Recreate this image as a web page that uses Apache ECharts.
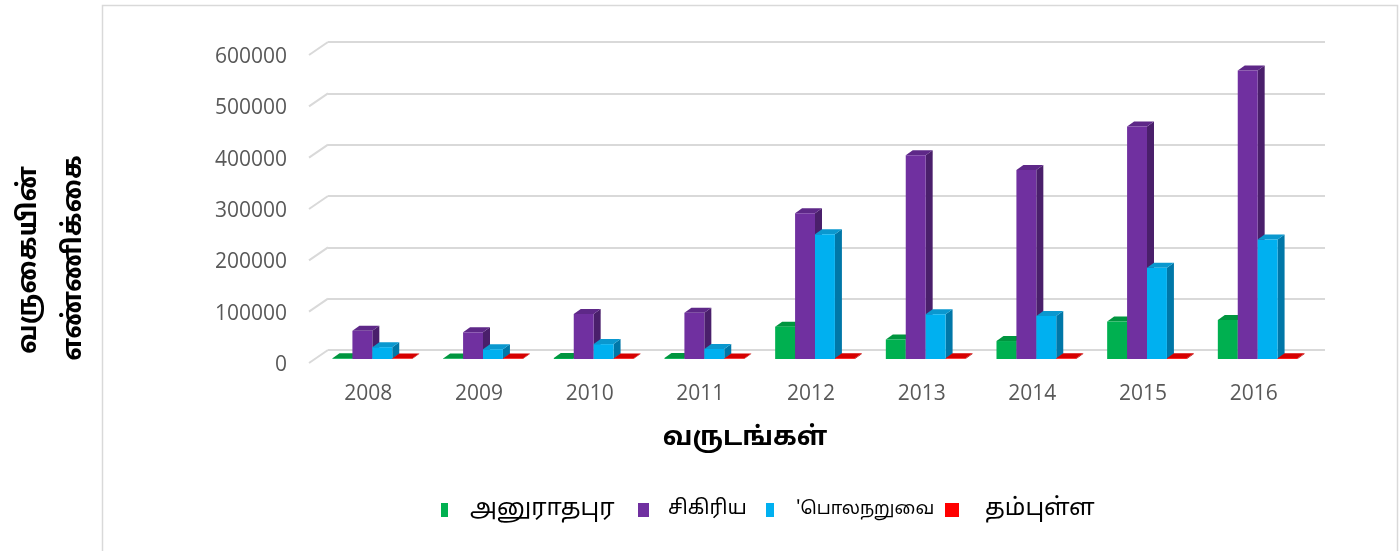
<!DOCTYPE html>
<html>
<head>
<meta charset="utf-8">
<script src="https://cdn.jsdelivr.net/npm/echarts@6/dist/echarts.min.js"></script>
<style>
html,body{margin:0;padding:0;background:#fff;}
#c{width:1399px;height:551px;}
</style>
</head>
<body>
<div id="c"></div>
<script>
// ---- data ----
const years = ['2008','2009','2010','2011','2012','2013','2014','2015','2016'];
const seriesNames = ['அனுராதபுர','சிகிரிய','பொலநறுவை','தம்புள்ள'];
const anuradhapura = [1500, 1200, 2000, 1800, 63000, 38000, 35000, 73000, 76000];
const sigiriya = [55000, 52000, 87500, 90000, 284000, 397000, 368000, 453000, 562000];
const polonnaruwa = [23000, 19000, 29000, 19500, 243000, 87000, 84000, 178000, 233000];
const dambulla = [900, 1100, 1200, 1000, 1500, 1300, 1400, 1600, 1700];
const yTicks = [0, 100000, 200000, 300000, 400000, 500000, 600000];
const xTitle = 'வருடங்கள்';
const yTitle1 = 'வருகையின்';
const yTitle2 = 'எண்ணிக்கை';

const palettes = [
  {front:'#00b050', top:'#00953f', side:'#007a35'},
  {front:'#7030a0', top:'#5e2888', side:'#4a1f6b'},
  {front:'#00b0f0', top:'#0a98cf', side:'#0077a8'},
  {front:'#ff0000', top:'#d60000', side:'#b00000'}
];
const allVals = [anuradhapura, sigiriya, polonnaruwa, dambulla];
const tamilFont = '"Noto Sans Tamil","Latha","Noto Sans",sans-serif';

function makeRender(si){
  const p = palettes[si];
  return function(params, api){
    const c = api.value(0), v = api.value(1);
    const base = api.coord([c, 0]);
    const top = api.coord([c, v]);
    const band = api.size([1, 0])[0];
    const w = band * 0.18;
    const x0 = base[0] - 2*w + si*w;
    const yb = base[1], yt = top[1];
    const dx = 7, dy = 5;
    return {type:'group', children:[
      {type:'polygon', shape:{points:[[x0+w,yb],[x0+w+dx,yb-dy],[x0+w+dx,yt-dy],[x0+w,yt]]}, style:{fill:p.side}},
      {type:'polygon', shape:{points:[[x0,yt],[x0+dx,yt-dy],[x0+w+dx,yt-dy],[x0+w,yt]]}, style:{fill:p.top}},
      {type:'rect', shape:{x:x0,y:yt,width:w,height:Math.max(0,yb-yt)}, style:{fill:p.front}}
    ]};
  };
}

const barSeries = allVals.map((vals, si) => ({
  type:'custom', name: seriesNames[si], xAxisIndex:0, yAxisIndex:0,
  renderItem: makeRender(si),
  encode:{x:0, y:1},
  data: years.map((y, i) => [i, vals[i]]),
  z: 5 + si
}));

const stubSeries = {
  type:'custom', xAxisIndex:2, yAxisIndex:2, silent:true,
  renderItem: function(params, api){
    const p = api.coord([0, api.value(1)]);
    return {type:'line', shape:{x1:p[0], y1:p[1]-2, x2:p[0]+19, y2:p[1]-15},
            style:{stroke:'#d9d9d9', lineWidth:2}};
  },
  encode:{x:0, y:1},
  data: yTicks.map(t => [0, t]),
  z: 1
};

const legendItems = [
  {mx:441, mw:7, tx:470, size:24},
  {mx:638, mw:11, tx:668, size:20},
  {mx:766, mw:8, tx:796, size:18},
  {mx:945, mw:14, tx:985, size:24}
];
const legendText = ['அனுராதபுர','சிகிரிய','\'பொலநறுவை','தம்புள்ள'];

const graphics = [
  {type:'rect', shape:{x:102.5, y:5.5, width:1295, height:600}, style:{fill:null, stroke:'#d9d9d9', lineWidth:1.5}, z:0},
  {type:'text', x:745, y:440, style:{text:xTitle, font:'bold 26px ' + tamilFont, fill:'#000', align:'center', verticalAlign:'middle'}},
  {type:'text', x:31, y:260, rotation:Math.PI/2, style:{text:yTitle1, font:'bold 26px ' + tamilFont, fill:'#000', align:'center', verticalAlign:'middle'}},
  {type:'text', x:76, y:258, rotation:Math.PI/2, style:{text:yTitle2, font:'bold 26px ' + tamilFont, fill:'#000', align:'center', verticalAlign:'middle'}}
];
legendItems.forEach((it, i) => {
  graphics.push({type:'rect', shape:{x:it.mx, y:503, width:it.mw, height:14}, style:{fill:palettes[i].front}});
  graphics.push({type:'text', x:it.tx, y:510, style:{text:legendText[i], font: it.size + 'px ' + tamilFont, fill:'#000', align:'left', verticalAlign:'middle'}});
});

const chart = echarts.init(document.getElementById('c'), null, {renderer:'canvas'});
chart.setOption({
  animation:false,
  backgroundColor:'#fff',
  grid:[
    {left:317, width:996, top:51, height:308},
    {left:328, width:997, top:42, height:308},
    {left:309, width:997, top:57, height:308}
  ],
  xAxis:[
    {type:'category', gridIndex:0, data:years, axisLine:{show:false}, axisTick:{show:false},
     axisLabel:{margin:25, fontSize:21, color:'#595959', fontFamily:'"Open Sans",sans-serif', padding:[0,8,0,0]}, splitLine:{show:false}},
    {type:'category', gridIndex:1, data:years, show:false},
    {type:'value', gridIndex:2, min:0, max:1, show:false}
  ],
  yAxis:[
    {type:'value', gridIndex:0, min:0, max:600000, interval:100000, show:false},
    {type:'value', gridIndex:1, min:0, max:600000, interval:100000,
     axisLine:{show:false}, axisTick:{show:false}, axisLabel:{show:false},
     splitLine:{show:true, lineStyle:{color:'#d9d9d9', width:2}}},
    {type:'value', gridIndex:2, min:0, max:600000, interval:100000,
     axisLine:{show:false}, axisTick:{show:false}, splitLine:{show:false},
     axisLabel:{margin:22, fontSize:21, color:'#595959', fontFamily:'"Open Sans",sans-serif',
                formatter: v => String(v)}}
  ],
  series: barSeries.concat([stubSeries]),
  graphic: graphics
});
</script>
</body>
</html>
